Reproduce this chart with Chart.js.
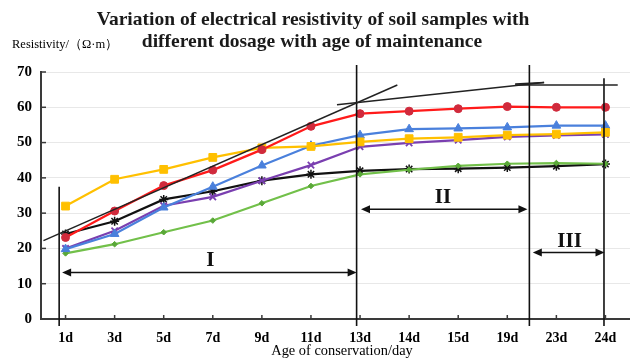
<!DOCTYPE html>
<html>
<head>
<meta charset="utf-8">
<script src="https://cdn.jsdelivr.net/npm/chart.js@4/dist/chart.umd.min.js"></script>
<style>
html,body{margin:0;padding:0;background:#fff;}
#wrap{width:630px;height:358px;position:relative;}
</style>
</head>
<body>
<div id="wrap"><canvas id="c" width="630" height="358"></canvas></div>
<script>
// ---- data ----
const categories = ['1d','3d','5d','7d','9d','11d','13d','14d','15d','19d','23d','24d'];
const redValues    = [23.1,30.6,37.8,42.2,48.0,54.6,58.2,58.9,59.6,60.2,60.0,60.0];
const yellowValues = [32.0,39.6,42.4,45.8,48.5,48.9,50.2,51.1,51.5,52.1,52.4,52.9];
const blueValues   = [19.8,24.1,31.6,37.5,43.5,49.1,52.1,53.8,54.0,54.3,54.8,54.8];
const purpleValues = [20.0,25.0,32.1,34.6,39.2,43.6,48.8,49.9,50.7,51.6,52.0,52.3];
const greenValues  = [18.6,21.2,24.6,27.9,32.8,37.7,41.0,42.3,43.4,44.0,44.2,44.0];
const blackValues  = [24.1,27.7,33.9,36.2,39.2,41.0,42.0,42.5,42.6,42.9,43.3,43.9];
const yTicks = [0,10,20,30,40,50,60,70];

// annotation geometry in data units (x = category index, y = resistivity)
const stageLines = [ // vertical dividers
  {x:-0.13, y1:37.5, y2:-2},
  {x:5.93,  y1:72.0, y2:-2},
  {x:9.45,  y1:72.0, y2:-2},
  {x:10.97, y1:68.2, y2:-2}
];
const tangentLines = [
  {x1:-0.45, y1:22.2, x2:6.76, y2:66.3},
  {x1:5.53,  y1:60.7, x2:9.75, y2:67.0},
  {x1:9.16,  y1:66.6, x2:9.75, y2:67.0},
  {x1:9.16,  y1:66.3, x2:11.25, y2:66.3}
];
const stageArrows = [
  {x1:-0.07, x2:5.93, y:13.2},
  {x1:6.02,  x2:9.41, y:31.1},
  {x1:9.52,  x2:10.98, y:18.85}
];
const stageLabels = [
  {text:'I',   x:2.95,  y:16.6},
  {text:'II',  x:7.69,  y:34.4},
  {text:'III', x:10.27, y:21.8}
];
const titleLines = ['Variation of electrical resistivity of soil samples with','different dosage with age of maintenance'];
const yAxisTitle = 'Resistivity/（Ω·m）';
const xAxisTitle = 'Age of conservation/day';

const SERIF = '"Liberation Serif","Times New Roman","DejaVu Serif",serif';

function arrowHead(ctx, x, y, dir){
  ctx.beginPath();
  ctx.moveTo(x, y);
  ctx.lineTo(x - dir*9, y - 4);
  ctx.lineTo(x - dir*9, y + 4);
  ctx.closePath();
  ctx.fill();
}

const annotationPlugin = {
  id:'annot',
  afterDraw(chart){
    const ctx = chart.ctx, xs = chart.scales.x, ys = chart.scales.y, ca = chart.chartArea;
    ctx.save();
    // inner tick marks
    ctx.strokeStyle = '#3a3a3a'; ctx.lineWidth = 1.5;
    xs.ticks.forEach((t,i)=>{
      const px = xs.getPixelForTick(i);
      ctx.beginPath(); ctx.moveTo(px, ca.bottom); ctx.lineTo(px, ca.bottom-4); ctx.stroke();
    });
    ys.ticks.forEach((t,i)=>{
      const py = ys.getPixelForTick(i);
      ctx.beginPath(); ctx.moveTo(ca.left, py); ctx.lineTo(ca.left+5, py); ctx.stroke();
    });
    // vertical stage lines
    ctx.strokeStyle = '#111'; ctx.lineWidth = 1.6;
    stageLines.forEach(l=>{
      const px = xs.getPixelForValue(l.x);
      ctx.beginPath(); ctx.moveTo(px, ys.getPixelForValue(l.y1)); ctx.lineTo(px, ys.getPixelForValue(l.y2)); ctx.stroke();
    });
    // tangent lines
    ctx.strokeStyle = '#222'; ctx.lineWidth = 1.5;
    tangentLines.forEach(l=>{
      ctx.beginPath();
      ctx.moveTo(xs.getPixelForValue(l.x1), ys.getPixelForValue(l.y1));
      ctx.lineTo(xs.getPixelForValue(l.x2), ys.getPixelForValue(l.y2));
      ctx.stroke();
    });
    // arrows
    ctx.strokeStyle = '#111'; ctx.fillStyle = '#111'; ctx.lineWidth = 1.5;
    stageArrows.forEach(a=>{
      const p1 = xs.getPixelForValue(a.x1), p2 = xs.getPixelForValue(a.x2), py = ys.getPixelForValue(a.y);
      ctx.beginPath(); ctx.moveTo(p1+6, py); ctx.lineTo(p2-6, py); ctx.stroke();
      arrowHead(ctx, p1, py, -1);
      arrowHead(ctx, p2, py, 1);
    });
    // stage labels
    ctx.font = 'bold 21px ' + SERIF;
    ctx.textAlign = 'center'; ctx.textBaseline = 'middle';
    stageLabels.forEach(s=>{
      ctx.fillText(s.text, xs.getPixelForValue(s.x), ys.getPixelForValue(s.y));
    });
    // titles
    ctx.fillStyle = '#1a1a1a';
    ctx.font = 'bold 19.5px ' + SERIF;
    ctx.textAlign = 'center'; ctx.textBaseline = 'middle';
    ctx.fillText(titleLines[0], 313, 20);
    ctx.fillText(titleLines[1], 312, 42);
    ctx.fillStyle = '#000';
    ctx.font = '12.5px ' + SERIF;
    ctx.textAlign = 'left';
    ctx.fillText(yAxisTitle, 12, 45);
    ctx.font = '14.4px ' + SERIF;
    ctx.textAlign = 'center';
    ctx.fillText(xAxisTitle, 342, 351);
    ctx.restore();
  }
};

function ds(label, data, color, pointColor, style, radius, bw){
  return {
    label, data,
    borderColor: color, backgroundColor: pointColor,
    pointBackgroundColor: pointColor, pointBorderColor: pointColor,
    pointStyle: style, pointRadius: radius, pointHoverRadius: radius,
    pointBorderWidth: bw, borderWidth: 2.2, tension: 0, fill: false
  };
}

new Chart(document.getElementById('c'), {
  type:'line',
  data:{
    labels: categories,
    datasets:[
      ds('Red', redValues, '#ff1a1a', '#d02a3c', 'circle', 4, 1),
      ds('Yellow', yellowValues, '#ffc000', '#ffc000', 'rect', 5.5, 1),
      ds('Blue', blueValues, '#4a80dc', '#4a80dc', 'triangle', 5, 1),
      ds('Purple', purpleValues, '#7a3fb0', '#7a3fb0', 'crossRot', 4.5, 1.8),
      ds('Green', greenValues, '#72c04a', '#5aa838', 'rectRot', 2.8, 1),
      ds('Black', blackValues, '#111111', '#111111', 'star', 4.5, 1.5)
    ]
  },
  options:{
    responsive:false, animation:false,
    layout:{autoPadding:false, padding:{top:72,left:0,right:0,bottom:0}},
    plugins:{legend:{display:false}, tooltip:{enabled:false}, title:{display:false}},
    scales:{
      x:{
        type:'category', offset:true,
        grid:{display:false, drawTicks:false},
        border:{display:true, color:'#3a3a3a', width:2},
        ticks:{font:{family:SERIF, size:14, weight:'bold'}, color:'#000', padding:11, maxRotation:0, autoSkip:false},
        afterFit(s){ s.height = 39; s.paddingLeft = 0; s.paddingRight = 0; }
      },
      y:{
        min:0, max:70,
        afterBuildTicks(s){ s.ticks = yTicks.map(v=>({value:v})); },
        grid:{color:'#e8e8e8', lineWidth:1, drawTicks:false},
        border:{display:true, color:'#3a3a3a', width:2},
        ticks:{font:{family:SERIF, size:15, weight:'bold'}, color:'#000', padding:9},
        afterFit(s){ s.width = 41; s.paddingTop = 0; s.paddingBottom = 0; }
      }
    }
  },
  plugins:[annotationPlugin]
});
</script>
</body>
</html>
